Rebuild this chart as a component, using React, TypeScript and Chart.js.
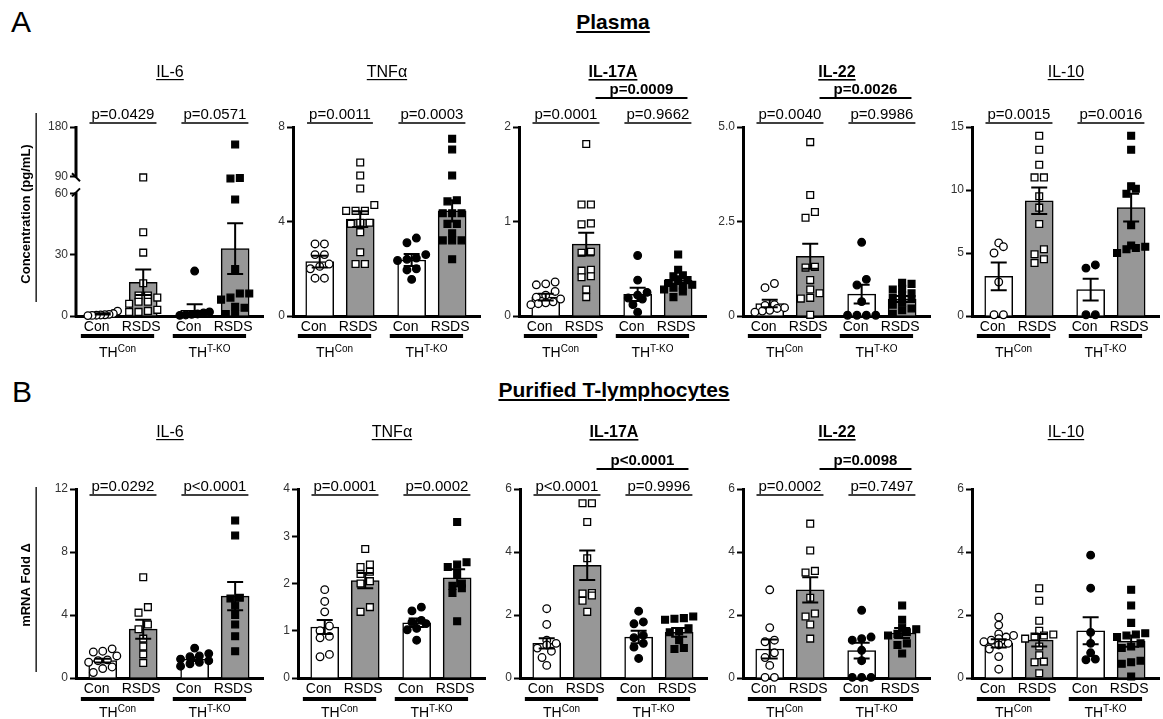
import React, { useEffect, useRef } from 'react';
import { Chart, registerables } from 'chart.js';

Chart.register(...registerables);

const FONT = '"Liberation Sans", Arial, Helvetica, sans-serif';

// ---------- shared labels ----------
const categories = ['Con', 'RSDS', 'Con', 'RSDS'];
const genotypeBase = 'TH';
const genotypeSup = ['Con', 'T-KO'];
const xPositions = [0, 1, 2.27, 3.27];
const sectionTitles = ['Plasma', 'Purified T-lymphocytes'];
const sectionLetters = ['A', 'B'];
const yTitles = ['Concentration (pg/mL)', 'mRNA Fold Δ'];

// ---------- Plasma ----------
const plasmaIL6Means = [1.0, 16.5, 2.8, 33];
const plasmaIL6Sems = [0.3, 6.2, 3.0, 12.4];
const plasmaIL6Con = [2.4, 1.2, 0.8, 0.6, 0.5, 0.4, 0.3, 0.2];
const plasmaIL6Rsds = [88, 41, 31, 16, 10, 10, 9, 7, 7, 6, 3, 2.5, 2, 2];
const plasmaIL6KoCon = [22, 2, 1.5, 1, 0.8, 0.5, 0.3];
const plasmaIL6KoRsds = [148, 87, 86, 57, 23, 11, 11, 9, 8, 4.5, 4, 1, 1];
const plasmaIL6Ticks = [0, 30, 60, 90, 180];
const plasmaIL6P = ['p=0.0429', 'p=0.0571'];

const plasmaTNFMeans = [2.3, 4.1, 2.37, 4.45];
const plasmaTNFSems = [0.25, 0.33, 0.25, 0.45];
const plasmaTNFCon = [3.05, 3.05, 2.6, 2.6, 2.2, 2.1, 2.0, 1.6, 1.6];
const plasmaTNFRsds = [6.5, 5.95, 5.4, 4.7, 4.45, 4.45, 4.45, 3.95, 3.95, 3.9, 3.55, 2.7, 2.2, 2.2];
const plasmaTNFKoCon = [3.3, 3.1, 2.6, 2.45, 2.4, 2.35, 2.0, 1.95, 1.55];
const plasmaTNFKoRsds = [7.5, 7.05, 5.95, 4.9, 4.85, 4.35, 4.35, 4.35, 3.9, 3.9, 3.5, 3.2, 3.2, 3.2, 2.4];
const plasmaTNFTicks = [0, 4, 8];
const plasmaTNFP = ['p=0.0011', 'p=0.0003'];

const plasmaIL17Means = [0.2, 0.76, 0.23, 0.38];
const plasmaIL17Sems = [0.035, 0.12, 0.07, 0.04];
const plasmaIL17Con = [0.36, 0.34, 0.33, 0.26, 0.22, 0.2, 0.18, 0.15, 0.14, 0.13, 0.12];
const plasmaIL17Rsds = [1.82, 1.18, 1.18, 0.98, 0.97, 0.68, 0.67, 0.49, 0.48, 0.42, 0.41, 0.28, 0.2];
const plasmaIL17KoCon = [0.64, 0.38, 0.25, 0.22, 0.19, 0.18, 0.12, 0.04];
const plasmaIL17KoRsds = [0.65, 0.49, 0.43, 0.42, 0.38, 0.37, 0.35, 0.33, 0.32, 0.3, 0.28, 0.26, 0.2];
const plasmaIL17Ticks = [0, 1, 2];
const plasmaIL17P = ['p=0.0001', 'p=0.9662'];
const plasmaIL17BoldP = 'p=0.0009';

const plasmaIL22Means = [0.33, 1.58, 0.58, 0.45];
const plasmaIL22Sems = [0.1, 0.33, 0.25, 0.08];
const plasmaIL22Con = [0.86, 0.75, 0.3, 0.28, 0.22, 0.2, 0.15, 0.13, 0.1];
const plasmaIL22Rsds = [4.6, 3.2, 2.75, 2.6, 1.3, 1.28, 0.95, 0.7, 0.6, 0.48, 0.46, 0.03];
const plasmaIL22KoCon = [1.95, 0.97, 0.82, 0.38, 0.02, 0.02, 0.02, 0.02];
const plasmaIL22KoRsds = [0.88, 0.85, 0.72, 0.7, 0.6, 0.55, 0.48, 0.45, 0.35, 0.3, 0.2, 0.15, 0.06];
const plasmaIL22Ticks = [0, 2.5, 5];
const plasmaIL22TickLabels = ['0', '2.5', '5.0'];
const plasmaIL22P = ['p=0.0040', 'p=0.9986'];
const plasmaIL22BoldP = 'p=0.0026';

const plasmaIL10Means = [3.15, 9.15, 2.1, 8.6];
const plasmaIL10Sems = [1.1, 1.05, 0.86, 1.1];
const plasmaIL10Con = [5.8, 5.5, 5.0, 2.7, 0.1, 0.1];
const plasmaIL10Rsds = [14.3, 13.2, 12.0, 11.0, 11.0, 9.5, 8.6, 7.3, 5.3, 4.9, 4.5, 4.2];
const plasmaIL10KoCon = [4.05, 3.8, 0.1, 0.1];
const plasmaIL10KoRsds = [14.3, 13.2, 10.3, 10.1, 9.7, 7.2, 5.6, 5.5, 5.4, 5.3, 5.0];
const plasmaIL10Ticks = [0, 5, 10, 15];
const plasmaIL10P = ['p=0.0015', 'p=0.0016'];

// ---------- Purified T-lymphocytes ----------
const tcIL6Means = [1.1, 3.1, 1.2, 5.2];
const tcIL6Sems = [0.12, 0.6, 0.12, 0.9];
const tcIL6Con = [1.85, 1.7, 1.65, 1.4, 1.15, 1.1, 1.0, 0.7, 0.6, 0.35];
const tcIL6Rsds = [6.4, 4.5, 4.15, 3.4, 3.1, 2.5, 2.0, 1.5, 0.95];
const tcIL6KoCon = [1.9, 1.55, 1.4, 1.35, 1.2, 1.1, 1.0, 0.9, 0.75];
const tcIL6KoRsds = [10.0, 9.05, 5.1, 5.05, 4.6, 4.0, 3.4, 2.65, 1.7];
const tcIL6Ticks = [0, 4, 8, 12];
const tcIL6P = ['p=0.0292', 'p<0.0001'];

const tcTNFMeans = [1.08, 2.06, 1.17, 2.12];
const tcTNFSems = [0.15, 0.16, 0.09, 0.18];
const tcTNFCon = [1.87, 1.62, 1.4, 1.1, 1.0, 0.88, 0.85, 0.5, 0.45];
const tcTNFRsds = [2.73, 2.4, 2.35, 2.25, 2.2, 2.05, 2.0, 1.5, 1.4];
const tcTNFKoCon = [1.5, 1.42, 1.22, 1.18, 1.15, 1.05, 1.02, 0.8];
const tcTNFKoRsds = [3.3, 2.45, 2.4, 2.35, 2.2, 2.0, 1.95, 1.9, 1.8, 1.2];
const tcTNFTicks = [0, 1, 2, 3, 4];
const tcTNFP = ['p=0.0001', 'p=0.0002'];

const tcIL17Means = [1.1, 3.58, 1.3, 1.45];
const tcIL17Sems = [0.16, 0.47, 0.2, 0.14];
const tcIL17Con = [2.2, 1.7, 1.2, 1.1, 1.05, 0.95, 0.85, 0.65, 0.4];
const tcIL17Rsds = [5.55, 5.55, 4.95, 3.8, 2.7, 2.68, 2.62, 2.45, 2.1];
const tcIL17KoCon = [2.12, 1.78, 1.72, 1.35, 1.28, 1.1, 0.98, 0.62];
const tcIL17KoRsds = [1.95, 1.9, 1.88, 1.85, 1.58, 1.48, 1.45, 1.2, 0.95, 0.92];
const tcIL17Ticks = [0, 2, 4, 6];
const tcIL17P = ['p<0.0001', 'p=0.9996'];
const tcIL17BoldP = 'p<0.0001';

const tcIL22Means = [0.92, 2.8, 0.87, 1.43];
const tcIL22Sems = [0.3, 0.4, 0.25, 0.16];
const tcIL22Con = [2.8, 1.6, 1.2, 1.15, 0.8, 0.65, 0.4, 0.02, 0.02];
const tcIL22Rsds = [4.9, 4.05, 3.4, 3.35, 2.55, 2.05, 1.95, 1.7, 1.25];
const tcIL22KoCon = [2.15, 1.3, 1.25, 1.2, 0.88, 0.55, 0.02, 0.02, 0.02];
const tcIL22KoRsds = [2.3, 1.85, 1.6, 1.55, 1.45, 1.4, 1.35, 1.1, 1.05, 0.78];
const tcIL22Ticks = [0, 2, 4, 6];
const tcIL22P = ['p=0.0002', 'p=0.7497'];
const tcIL22BoldP = 'p=0.0098';

const tcIL10Means = [1.1, 1.2, 1.5, 1.17];
const tcIL10Sems = [0.13, 0.2, 0.43, 0.18];
const tcIL10Con = [1.93, 1.68, 1.4, 1.35, 1.3, 1.25, 1.2, 1.15, 1.1, 1.05, 0.92, 0.68, 0.28];
const tcIL10Rsds = [2.85, 2.45, 1.82, 1.5, 1.38, 1.35, 1.32, 1.25, 1.0, 0.72, 0.52, 0.5, 0.15];
const tcIL10KoCon = [3.9, 2.85, 1.45, 1.1, 0.8, 0.6, 0.58];
const tcIL10KoRsds = [2.8, 2.3, 1.75, 1.42, 1.38, 1.35, 1.3, 1.1, 1.0, 0.95, 0.55, 0.5, 0.45, 0.05];
const tcIL10Ticks = [0, 2, 4, 6];
const tcIL10P: string[] = [];

// ---------- panel table built from the arrays ----------
type Spec = {
  title: string; bold: boolean; means: number[]; sems: number[]; points: number[][];
  ticks: number[]; tickLabels?: string[]; pvals: string[]; boldP?: string; broken?: boolean;
};

const panels: Spec[][] = [
  [
    { title: 'IL-6', bold: false, means: plasmaIL6Means, sems: plasmaIL6Sems, points: [plasmaIL6Con, plasmaIL6Rsds, plasmaIL6KoCon, plasmaIL6KoRsds], ticks: plasmaIL6Ticks, pvals: plasmaIL6P, broken: true },
    { title: 'TNFα', bold: false, means: plasmaTNFMeans, sems: plasmaTNFSems, points: [plasmaTNFCon, plasmaTNFRsds, plasmaTNFKoCon, plasmaTNFKoRsds], ticks: plasmaTNFTicks, pvals: plasmaTNFP },
    { title: 'IL-17A', bold: true, means: plasmaIL17Means, sems: plasmaIL17Sems, points: [plasmaIL17Con, plasmaIL17Rsds, plasmaIL17KoCon, plasmaIL17KoRsds], ticks: plasmaIL17Ticks, pvals: plasmaIL17P, boldP: plasmaIL17BoldP },
    { title: 'IL-22', bold: true, means: plasmaIL22Means, sems: plasmaIL22Sems, points: [plasmaIL22Con, plasmaIL22Rsds, plasmaIL22KoCon, plasmaIL22KoRsds], ticks: plasmaIL22Ticks, tickLabels: plasmaIL22TickLabels, pvals: plasmaIL22P, boldP: plasmaIL22BoldP },
    { title: 'IL-10', bold: false, means: plasmaIL10Means, sems: plasmaIL10Sems, points: [plasmaIL10Con, plasmaIL10Rsds, plasmaIL10KoCon, plasmaIL10KoRsds], ticks: plasmaIL10Ticks, pvals: plasmaIL10P },
  ],
  [
    { title: 'IL-6', bold: false, means: tcIL6Means, sems: tcIL6Sems, points: [tcIL6Con, tcIL6Rsds, tcIL6KoCon, tcIL6KoRsds], ticks: tcIL6Ticks, pvals: tcIL6P },
    { title: 'TNFα', bold: false, means: tcTNFMeans, sems: tcTNFSems, points: [tcTNFCon, tcTNFRsds, tcTNFKoCon, tcTNFKoRsds], ticks: tcTNFTicks, pvals: tcTNFP },
    { title: 'IL-17A', bold: true, means: tcIL17Means, sems: tcIL17Sems, points: [tcIL17Con, tcIL17Rsds, tcIL17KoCon, tcIL17KoRsds], ticks: tcIL17Ticks, pvals: tcIL17P, boldP: tcIL17BoldP },
    { title: 'IL-22', bold: true, means: tcIL22Means, sems: tcIL22Sems, points: [tcIL22Con, tcIL22Rsds, tcIL22KoCon, tcIL22KoRsds], ticks: tcIL22Ticks, pvals: tcIL22P, boldP: tcIL22BoldP },
    { title: 'IL-10', bold: false, means: tcIL10Means, sems: tcIL10Sems, points: [tcIL10Con, tcIL10Rsds, tcIL10KoCon, tcIL10KoRsds], ticks: tcIL10Ticks, pvals: tcIL10P },
  ],
];

// ---------- layout (positions / styles only) ----------
const X_MIN = -0.66;
const X_MAX = 3.98;
const PLOT_W = 190;
const LABEL_SHIFT = [-0.15, -0.05, -0.15, -0.05];
const ROWS = [
  { top: 127, bottom: 316, canvasTop: 52, canvasBottom: 368, axisX: [76, 293, 519, 743, 972], titleDy: -56, brDy: -4, boldDy: -29, groupDy: 20, thDy: 36, yTitleDy: 87, yLine: [-14, 175] },
  { top: 489, bottom: 678, canvasTop: 412, canvasBottom: 719, axisX: [76, 298, 520, 743, 972], titleDy: -58, brDy: 6, boldDy: -20, groupDy: 21, thDy: 34, yTitleDy: 96, yLine: [-2, 183] },
];
const GRAY = '#979797';

// broken-axis transform (0-60 and 90-180 segments)
const BREAK_GAP = 8.36;
const UPPER_K = 0.2677;
function brokenT(v: number) {
  if (v <= 60) return v;
  if (v < 90) return 60 + ((v - 60) / 30) * BREAK_GAP;
  return 60 + BREAK_GAP + (v - 90) * UPPER_K;
}
const ident = (v: number) => v;

// horizontal spreading of points sharing a similar value (layout only)
function swarm(vals: number[], center: number, yPx: number, xPx: number) {
  const d = 9.5;
  const order = vals.map((_, i) => i).sort((a, b) => vals[a] - vals[b]);
  const res: { x: number; y: number }[] = new Array(vals.length);
  let i = 0;
  while (i < order.length) {
    const start = vals[order[i]];
    const rowIdx = [order[i]];
    let j = i + 1;
    while (j < order.length && (vals[order[j]] - start) * yPx < 6.5) {
      rowIdx.push(order[j]);
      j++;
    }
    const n = rowIdx.length;
    const step = n > 1 ? Math.min(d, 30 / (n - 1)) : 0;
    rowIdx.forEach((k, m) => {
      res[k] = { x: center + ((m - (n - 1) / 2) * step) / xPx, y: vals[k] };
    });
    i = j;
  }
  return res;
}

function Panel({ spec, row, col }: { spec: Spec; row: number; col: number }) {
  const ref = useRef<HTMLCanvasElement | null>(null);
  const R = ROWS[row];
  const axisX = R.axisX[col];
  const left = col === 0 ? 0 : axisX - 36;
  const lpad = axisX - left;
  const rpad = 4;
  const width = lpad + PLOT_W + rpad;
  const height = R.canvasBottom - R.canvasTop;
  const tpad = R.top - R.canvasTop;
  const bpad = R.canvasBottom - R.bottom;

  useEffect(() => {
    if (!ref.current) return;
    const tf = spec.broken ? brokenT : ident;
    const yMax = spec.ticks[spec.ticks.length - 1];
    const xPx = PLOT_W / (X_MAX - X_MIN);
    const yPx = (R.bottom - R.top) / tf(yMax);
    const tickLabels = spec.tickLabels || spec.ticks.map((t) => String(t));

    const scatterSets = spec.points.map((vals, g) => {
      const pts = swarm(vals, xPositions[g], yPx, xPx).map((p) => ({ x: p.x, y: tf(p.y) }));
      return {
        type: 'scatter',
        data: pts,
        pointStyle: g % 2 === 0 ? 'circle' : 'rect',
        pointRadius: g % 2 === 0 ? 3.8 : 4.8,
        pointHoverRadius: g % 2 === 0 ? 3.8 : 4.8,
        backgroundColor: g < 2 ? '#ffffff' : '#000000',
        borderColor: '#000000',
        borderWidth: 1.3,
        clip: false,
        order: 1,
      };
    });
    const barSet = {
      type: 'bar',
      data: spec.means.map((m, i) => ({ x: xPositions[i], y: tf(m) })),
      backgroundColor: ['#ffffff', GRAY, '#ffffff', GRAY],
      borderColor: '#000000',
      borderWidth: 1.5,
      borderSkipped: 'bottom',
      barThickness: 28,
      order: 2,
    };

    const deco = {
      id: 'deco',
      afterDatasetsDraw(chart: any) {
        const ctx = chart.ctx;
        const xs = chart.scales.x;
        const ys = chart.scales.y;
        ctx.save();
        ctx.strokeStyle = '#000';
        ctx.lineWidth = 2;
        spec.means.forEach((m, i) => {
          const x = xs.getPixelForValue(xPositions[i]);
          const yt = ys.getPixelForValue(tf(m + spec.sems[i]));
          const yb = ys.getPixelForValue(tf(Math.max(0, m - spec.sems[i])));
          ctx.beginPath();
          ctx.moveTo(x, yt);
          ctx.lineTo(x, yb);
          ctx.moveTo(x - 8, yt);
          ctx.lineTo(x + 8, yt);
          ctx.moveTo(x - 8, yb);
          ctx.lineTo(x + 8, yb);
          ctx.stroke();
        });
        ctx.restore();
      },
      afterDraw(chart: any) {
        const ctx = chart.ctx;
        const xs = chart.scales.x;
        const ys = chart.scales.y;
        const ca = chart.chartArea;
        ctx.save();
        ctx.fillStyle = '#000';
        ctx.strokeStyle = '#000';
        ctx.textBaseline = 'alphabetic';
        ctx.textAlign = 'center';

        // panel title (underlined)
        ctx.font = `${spec.bold ? 'bold ' : ''}16px ${FONT}`;
        const cx = (ca.left + ca.right) / 2;
        const tb = ca.top + R.titleDy + 6;
        ctx.fillText(spec.title, cx, tb);
        const tw = ctx.measureText(spec.title).width;
        ctx.fillRect(cx - tw / 2, tb + 2, tw, spec.bold ? 1.6 : 1.2);

        // p-value brackets
        ctx.font = `15px ${FONT}`;
        spec.pvals.forEach((p, g) => {
          const x1 = xs.getPixelForValue(xPositions[2 * g]);
          const x2 = xs.getPixelForValue(xPositions[2 * g + 1]);
          const mx = (x1 + x2) / 2;
          const ly = ca.top + R.brDy;
          const w = ctx.measureText(p).width;
          ctx.fillText(p, mx, ly - 4);
          ctx.fillRect(mx - w / 2 - 2, ly - 0.75, w + 4, 1.5);
        });
        if (spec.boldP) {
          ctx.font = `bold 15px ${FONT}`;
          const xa = xs.getPixelForValue(xPositions[1] + 0.23);
          const xb = xs.getPixelForValue(xPositions[3] + 0.23);
          const ly = ca.top + R.boldDy;
          ctx.fillText(spec.boldP, (xa + xb) / 2, ly - 4);
          ctx.fillRect(xa, ly - 1, xb - xa, 2);
        }

        // genotype group lines + labels
        for (let g = 0; g < 2; g++) {
          const xa = xs.getPixelForValue(xPositions[2 * g] - 0.54);
          const xb = xs.getPixelForValue(xPositions[2 * g + 1] + 0.27);
          ctx.fillRect(xa, ca.bottom + R.groupDy - 2, xb - xa, 4);
          ctx.font = `14px ${FONT}`;
          const w1 = ctx.measureText(genotypeBase).width;
          ctx.font = `10px ${FONT}`;
          const w2 = ctx.measureText(genotypeSup[g]).width;
          const sx = (xa + xb) / 2 - (w1 + w2) / 2;
          const base = ca.bottom + R.thDy + 5;
          ctx.textAlign = 'left';
          ctx.font = `14px ${FONT}`;
          ctx.fillText(genotypeBase, sx, base);
          ctx.font = `10px ${FONT}`;
          ctx.fillText(genotypeSup[g], sx + w1, base - 5);
          ctx.textAlign = 'center';
        }

        // y-axis title for first column
        if (col === 0) {
          ctx.save();
          ctx.translate(26, ca.top + R.yTitleDy);
          ctx.rotate(-Math.PI / 2);
          ctx.font = `bold 13px ${FONT}`;
          ctx.textBaseline = 'middle';
          ctx.fillText(yTitles[row], 0, 0);
          ctx.restore();
          ctx.fillRect(35.5, ca.top + R.yLine[0], 1.3, R.yLine[1] - R.yLine[0]);
        }

        // broken y axis
        if (spec.broken) {
          const ax = ca.left;
          const yTop = ys.getPixelForValue(tf(180));
          const y90 = ys.getPixelForValue(tf(90));
          const y60 = ys.getPixelForValue(tf(60));
          ctx.lineWidth = 3;
          ctx.beginPath();
          ctx.moveTo(ax, yTop - 1);
          ctx.lineTo(ax, y90 + 1);
          ctx.moveTo(ax, y60 - 1);
          ctx.lineTo(ax, ca.bottom + 1.5);
          ctx.stroke();
          ctx.lineWidth = 2;
          ctx.beginPath();
          ctx.moveTo(ax - 4, y90 - 3);
          ctx.lineTo(ax + 4, y90 + 5);
          ctx.moveTo(ax - 4, y60 + 3);
          ctx.lineTo(ax + 4, y60 - 5);
          ctx.stroke();
        }
        ctx.restore();
      },
    };

    const chart = new Chart(ref.current, {
      type: 'bar',
      data: { datasets: [...scatterSets, barSet] as any },
      options: {
        responsive: false,
        animation: false,
        devicePixelRatio: 1,
        events: [],
        layout: { padding: { left: 0, top: tpad, right: rpad, bottom: 0 } },
        plugins: { legend: { display: false }, tooltip: { enabled: false }, title: { display: false } },
        scales: {
          x: {
            type: 'linear',
            min: X_MIN,
            max: X_MAX,
            offset: false,
            afterBuildTicks: (ax: any) => {
              ax.ticks = xPositions.map((v, i) => ({ value: v + LABEL_SHIFT[i] }));
            },
            afterFit: (ax: any) => {
              ax.height = bpad;
            },
            ticks: {
              autoSkip: false,
              maxRotation: 0,
              minRotation: 0,
              padding: 3,
              color: '#000',
              font: { family: FONT, size: 14 },
              callback: (_v: any, i: number) => categories[i],
            },
            grid: { display: false, drawTicks: false, offset: false },
            border: { display: true, color: '#000', width: 3 },
          },
          y: {
            type: 'linear',
            min: 0,
            max: tf(yMax),
            afterBuildTicks: (ax: any) => {
              ax.ticks = spec.ticks.map((v) => ({ value: tf(v) }));
            },
            afterFit: (ax: any) => {
              ax.width = lpad;
            },
            ticks: {
              padding: 2,
              color: '#333',
              font: { family: FONT, size: 12 },
              callback: (_v: any, i: number) => tickLabels[i],
            },
            grid: { display: true, drawOnChartArea: false, drawTicks: true, tickLength: 6, tickWidth: 2, tickColor: '#000' },
            border: { display: !spec.broken, color: '#000', width: 3 },
          },
        },
      } as any,
      plugins: [deco as any],
    });
    return () => chart.destroy();
  }, []);

  return (
    <canvas
      ref={ref}
      width={width}
      height={height}
      style={{ position: 'absolute', left, top: R.canvasTop, width, height }}
    />
  );
}

export default function App() {
  return (
    <div
      style={{
        position: 'fixed',
        left: 0,
        top: 0,
        width: 1163,
        height: 719,
        background: '#fff',
        overflow: 'hidden',
        fontFamily: FONT,
        color: '#000',
      }}
    >
      <div style={{ position: 'absolute', left: 11, top: 7, fontSize: 30, lineHeight: '30px' }}>{sectionLetters[0]}</div>
      <div style={{ position: 'absolute', left: 12, top: 377, fontSize: 30, lineHeight: '30px' }}>{sectionLetters[1]}</div>
      <div
        style={{ position: 'absolute', left: 613, top: 11, transform: 'translateX(-50%)', fontSize: 21, lineHeight: '21px', fontWeight: 'bold', textDecoration: 'underline', whiteSpace: 'nowrap' }}
      >
        {sectionTitles[0]}
      </div>
      <div
        style={{ position: 'absolute', left: 614, top: 379, transform: 'translateX(-50%)', fontSize: 21, lineHeight: '21px', fontWeight: 'bold', textDecoration: 'underline', whiteSpace: 'nowrap' }}
      >
        {sectionTitles[1]}
      </div>
      {panels.map((rowSpecs, r) =>
        rowSpecs.map((spec, c) => <Panel key={`${r}-${c}`} spec={spec} row={r} col={c} />)
      )}
    </div>
  );
}
